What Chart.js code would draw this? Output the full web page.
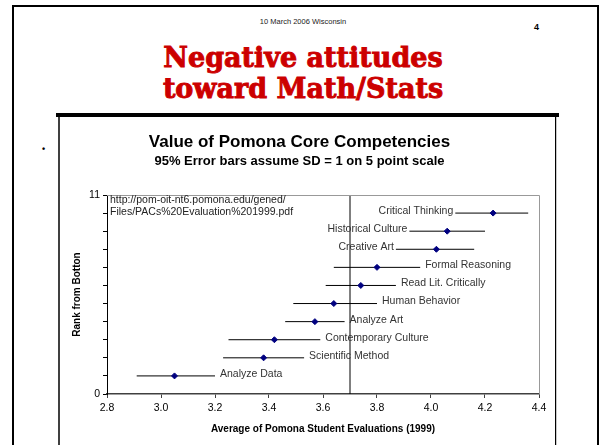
<!DOCTYPE html>
<html>
<head>
<meta charset="utf-8">
<title>Negative attitudes toward Math/Stats</title>
<script src="https://cdn.jsdelivr.net/npm/chart.js@4.4.0/dist/chart.umd.min.js"></script>
<style>
  html, body { margin: 0; padding: 0; background: #fff; }
  body { width: 602px; height: 445px; position: relative; overflow: hidden; font-family: "Liberation Sans", Arial, sans-serif; }
  #slide { position: absolute; left: 12px; top: 5px; width: 587px; height: 520px; border: 2px solid #000; box-sizing: border-box; }
  #header { position: absolute; left: 0; width: 606px; top: 17px; text-align: center; font-size: 7.5px; color: #222; }
  #pageNum { position: absolute; left: 534px; top: 22px; font-size: 9px; font-weight: bold; }
  #title { position: absolute; left: 0; width: 606px; top: 42px; text-align: center; font-family: "DejaVu Serif", serif; font-weight: bold; font-size: 27px; line-height: 31px; color: #cc0000; -webkit-text-stroke: 0.9px #cc0000; }
  #bullet { position: absolute; left: 42px; top: 144px; font-size: 9px; font-weight: bold; }
  .box { position: absolute; }
  #boxTop { left: 56px; top: 113px; width: 503px; height: 4px; background: #000; }
  #boxLeft { left: 58px; top: 117px; width: 2px; height: 340px; background: #404040; }
  #boxRight { left: 555px; top: 117px; width: 1px; height: 340px; background: #000; }
  #boxShade { left: 556px; top: 117px; width: 1px; height: 340px; background: #c8c8c8; }
  #chartWrap { position: absolute; left: 60px; top: 117px; width: 495px; height: 328px; }
</style>
</head>
<body>
<div id="slide"></div>
<div id="header">10 March 2006 Wisconsin</div>
<div id="pageNum">4</div>
<div id="title">Negative attitudes<br>toward Math/Stats</div>
<div id="bullet">•</div>
<div class="box" id="boxTop"></div>
<div class="box" id="boxLeft"></div>
<div class="box" id="boxRight"></div>
<div class="box" id="boxShade"></div>
<div id="chartWrap"><canvas id="chart" width="495" height="328"></canvas></div>

<script>
// ============================
// Dados
// ============================
const competencies = ["Analyze Data", "Scientific Method", "Contemporary Culture", "Analyze Art", "Human Behavior",
  "Read Lit. Critically", "Formal Reasoning", "Creative Art", "Historical Culture", "Critical Thinking"];
const ranks = [1, 2, 3, 4, 5, 6, 7, 8, 9, 10];
const means = [3.05, 3.38, 3.42, 3.57, 3.64, 3.74, 3.80, 4.02, 4.06, 4.23];
const lowerCI = [2.91, 3.23, 3.25, 3.46, 3.49, 3.61, 3.64, 3.87, 3.92, 4.09];
const upperCI = [3.20, 3.53, 3.59, 3.68, 3.80, 3.87, 3.96, 4.16, 4.20, 4.36];
const labelSide = ["right", "right", "right", "right", "right", "right", "right", "left", "left", "left"];
const referenceX = 3.7;
const xTicks = [2.8, 3.0, 3.2, 3.4, 3.6, 3.8, 4.0, 4.2, 4.4];
const yTicks = [0, 1, 2, 3, 4, 5, 6, 7, 8, 9, 10, 11];
const yTickLabels = [0, 11];
const sourceNote = ["http://pom-oit-nt6.pomona.edu/gened/", "Files/PACs%20Evaluation%201999.pdf"];

const FONT = "'Liberation Sans', Arial, sans-serif";

// barras de erro: uma linha por competência
const errorBarSets = competencies.map((name, i) => ({
  label: name + " CI",
  data: [{ x: lowerCI[i], y: ranks[i] }, { x: upperCI[i], y: ranks[i] }],
  showLine: true,
  borderColor: "#000",
  borderWidth: 1,
  pointRadius: 0,
  order: 2
}));

// rótulos das competências + nota da fonte + moldura
const annotations = {
  id: "annotations",
  afterDatasetsDraw(chart) {
    const { ctx, chartArea, scales: { x, y } } = chart;
    ctx.save();
    // moldura cinza (topo e direita)
    ctx.strokeStyle = "#999";
    ctx.lineWidth = 1;
    ctx.beginPath();
    ctx.moveTo(chartArea.left, chartArea.top + 0.5);
    ctx.lineTo(chartArea.right + 0.5, chartArea.top + 0.5);
    ctx.lineTo(chartArea.right + 0.5, chartArea.bottom);
    ctx.stroke();

    ctx.font = "10.5px " + FONT;
    ctx.fillStyle = "#333";
    ctx.textBaseline = "middle";
    competencies.forEach((name, i) => {
      const py = y.getPixelForValue(ranks[i]) - 2;
      if (labelSide[i] === "left") {
        ctx.textAlign = "right";
        ctx.fillText(name, x.getPixelForValue(lowerCI[i]) - 2, py);
      } else {
        ctx.textAlign = "left";
        ctx.fillText(name, x.getPixelForValue(upperCI[i]) + 5, py);
      }
    });

    ctx.textAlign = "left";
    ctx.textBaseline = "top";
    ctx.fillStyle = "#222";
    sourceNote.forEach((line, k) => {
      ctx.fillText(line, chartArea.left + 3, chartArea.top + k * 12);
    });
    ctx.restore();
  }
};

new Chart(document.getElementById("chart"), {
  type: "scatter",
  data: {
    datasets: [
      {
        label: "Mean",
        data: means.map((m, i) => ({ x: m, y: ranks[i] })),
        pointStyle: "rectRot",
        pointRadius: 3,
        backgroundColor: "#000080",
        borderColor: "#000080",
        borderWidth: 1,
        order: 0
      },
      {
        label: "Reference",
        data: [{ x: referenceX, y: yTicks[0] }, { x: referenceX, y: yTicks[yTicks.length - 1] }],
        showLine: true,
        borderColor: "#000",
        borderWidth: 1,
        pointRadius: 0,
        order: 1
      },
      ...errorBarSets
    ]
  },
  options: {
    responsive: false,
    animation: false,
    layout: { padding: { left: 0, right: 16, top: 0, bottom: 0 } },
    plugins: {
      legend: { display: false },
      tooltip: { enabled: false },
      title: {
        display: true,
        text: "Value of Pomona Core Competencies",
        color: "#000",
        font: { family: FONT, size: 17, weight: "bold" },
        padding: { top: 15, bottom: 0 }
      },
      subtitle: {
        display: true,
        text: "95% Error bars assume SD = 1 on 5 point scale",
        color: "#000",
        font: { family: FONT, size: 13, weight: "bold" },
        padding: { top: 1, bottom: 26 }
      }
    },
    scales: {
      x: {
        type: "linear",
        min: xTicks[0],
        max: xTicks[xTicks.length - 1],
        afterBuildTicks: s => { s.ticks = xTicks.map(v => ({ value: v })); },
        afterFit: s => { s.height = 51; },
        grid: { drawOnChartArea: false, drawTicks: true, tickLength: 4, color: "#404040" },
        border: { display: true, color: "#404040", width: 1.5 },
        ticks: {
          color: "#000",
          padding: 4,
          font: { family: FONT, size: 10.5 },
          callback: v => Number(v).toFixed(1)
        },
        title: {
          display: true,
          text: "Average of Pomona Student Evaluations (1999)",
          color: "#000",
          font: { family: FONT, size: 10, weight: "bold" },
          padding: { top: 0, bottom: 10 }
        }
      },
      y: {
        type: "linear",
        min: yTicks[0],
        max: yTicks[yTicks.length - 1],
        afterBuildTicks: s => { s.ticks = yTicks.map(v => ({ value: v })); },
        afterFit: s => { s.width = 47; },
        grid: { drawOnChartArea: false, drawTicks: true, tickLength: 4, color: "#000" },
        border: { display: true, color: "#000", width: 1 },
        ticks: {
          color: "#000",
          padding: 3,
          font: { family: FONT, size: 10.5 },
          callback: v => (yTickLabels.includes(v) ? v : "")
        },
        title: {
          display: true,
          text: "Rank from Botton",
          color: "#000",
          font: { family: FONT, size: 10, weight: "bold" },
          padding: { top: 11, bottom: 0 }
        }
      }
    }
  },
  plugins: [annotations]
});
</script>
</body>
</html>
